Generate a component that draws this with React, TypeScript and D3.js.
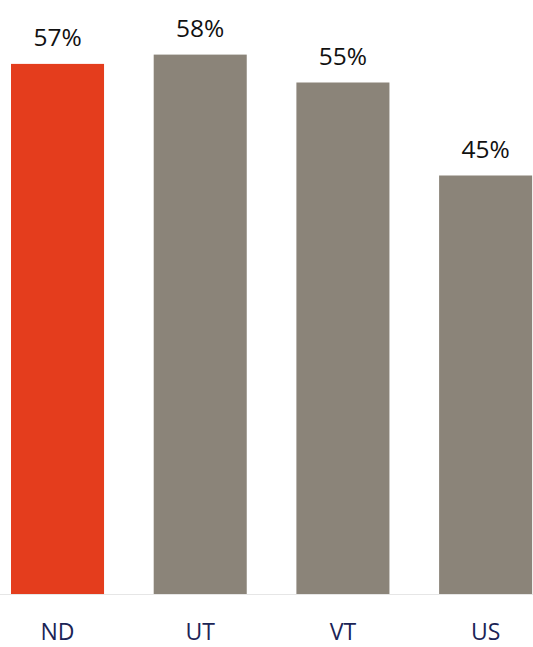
import React from "react";
import * as d3 from "d3";

const categories = ["ND", "UT", "VT", "US"];
const values = [57, 58, 55, 45];
const valueLabels = ["57%", "58%", "55%", "45%"];
const highlight = ["ND"];

const W = 533;
const H = 647;

export default function App() {
  const step = 142.7;
  const padIn = 0.348;
  const x = d3
    .scaleBand<string>()
    .domain(categories)
    .range([11, 11 + step * (categories.length - padIn)])
    .paddingInner(padIn)
    .paddingOuter(0)
    .align(0);
  const y = d3.scaleLinear().domain([0, 100]).range([594, 594 - 930]);
  const font = "'Open Sans', sans-serif";
  return (
    <svg
      width={W}
      height={H}
      style={{ position: "absolute", left: 0, top: 0, background: "#fff" }}
    >
      <line x1={0} x2={W} y1={594.5} y2={594.5} stroke="#e6e6e6" strokeWidth={1} />
      {categories.map((c, i) => {
        const bx = x(c)!;
        const bw = x.bandwidth();
        const top = y(values[i]);
        return (
          <g key={c}>
            <rect
              x={bx}
              y={top}
              width={bw}
              height={y(0) - top}
              fill={highlight.includes(c) ? "#e43d1d" : "#8b8479"}
            />
            <text
              x={bx + bw / 2}
              y={top - 18}
              textAnchor="middle"
              fontFamily={font}
              fontSize={24.5}
              fill="#111"
            >
              {valueLabels[i]}
            </text>
            <text
              x={bx + bw / 2}
              y={640}
              textAnchor="middle"
              fontFamily={font}
              fontSize={23}
              fill="#1b2456"
            >
              {c}
            </text>
          </g>
        );
      })}
    </svg>
  );
}
